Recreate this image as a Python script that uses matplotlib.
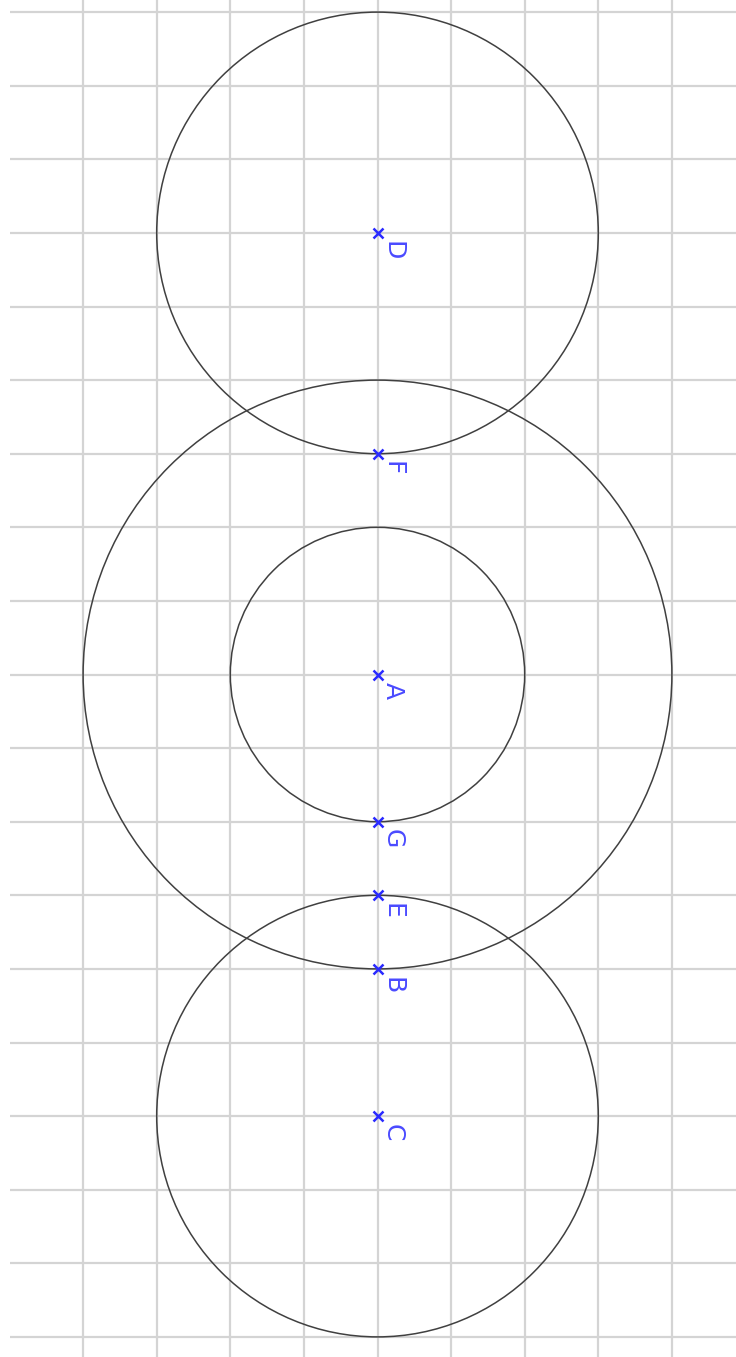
import matplotlib
matplotlib.use('Agg')
from matplotlib import pyplot as plt
from matplotlib.patches import Circle

# points along the vertical line x = 0 (grid units)
point_names = ['D', 'F', 'A', 'G', 'E', 'B', 'C']
point_y = [6, 3, 0, -2, -3, -4, -6]

# circles: centre name and radius
circle_centres = ['A', 'A', 'D', 'C']
circle_radii = [2, 4, 3, 3]

grid_x = list(range(-4, 5))
grid_y = list(range(-9, 10))

unit = 73.6
W, H = 736, 1357
fig = plt.figure(figsize=(W / 100, H / 100), dpi=100)
ax = fig.add_axes([0, 0, 1, 1])
ax.set_xlim(-377.5 / unit, (W - 377.5) / unit)
ax.set_ylim(-(H - 674.5) / unit, 674.5 / unit)
ax.set_aspect('equal')
ax.axis('off')

# grid
grid_color = '#d4d4d4'
for gx in grid_x:
    ax.axvline(gx, color=grid_color, lw=1.6, zorder=1)
ax.hlines(grid_y, -5, 6, color=grid_color, lw=1.6, zorder=1)

# circles
lookup = dict(zip(point_names, point_y))
for name, r in zip(circle_centres, circle_radii):
    ax.add_patch(Circle((0, lookup[name]), r, fill=False, ec='#404040', lw=1.1, zorder=2))

# points and labels
for name, y in zip(point_names, point_y):
    ax.plot(0, y, marker='x', color='#2a2aff', ms=7, mew=1.8, zorder=3)
    ax.annotate(name, (0, y), xytext=(2.5, -5.5), textcoords='offset points',
                rotation=-90, ha='left', va='top', color='#4a4aff',
                fontsize=18, family='DejaVu Sans', zorder=3)

fig.savefig('out.png', dpi=100)
